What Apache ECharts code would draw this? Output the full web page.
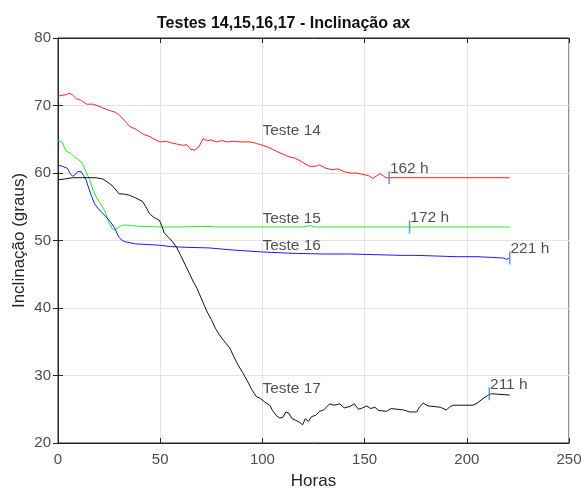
<!DOCTYPE html>
<html>
<head>
<meta charset="utf-8">
<script src="https://cdn.jsdelivr.net/npm/echarts@6/dist/echarts.min.js"></script>
<style>
  html, body { margin: 0; padding: 0; background: #fff; }
  #chart { width: 582px; height: 488px; }
</style>
</head>
<body>
<div id="chart"></div>
<script>
// eixos
var xTicks = [0, 50, 100, 150, 200, 250];
var yTicks = [20, 30, 40, 50, 60, 70, 80];

// Teste 14 (vermelho)
var horas14 = [0, 2, 4, 5.5, 7, 9, 11, 12, 14, 17, 20, 23, 25, 28, 30, 33, 35, 38, 40, 42, 45, 47, 50, 53, 55, 58, 61, 63, 65, 67, 69, 71, 73, 75, 77.5, 80, 83, 86, 90, 94, 97, 100, 103, 107, 110, 113, 116, 119, 123, 126, 128, 131, 134, 137, 140, 143, 146, 149, 152, 154, 156, 157.5, 159, 160.5, 162, 221];
var incl14 = [71.4, 71.5, 71.6, 71.8, 71.6, 71.0, 70.8, 70.6, 70.2, 70.2, 69.9, 69.5, 69.3, 69.0, 68.6, 67.6, 66.9, 66.5, 66.1, 65.7, 65.4, 65.0, 64.6, 64.7, 64.5, 64.3, 64.1, 64.2, 63.5, 63.4, 63.9, 65.1, 64.8, 64.9, 64.6, 64.8, 64.6, 64.7, 64.6, 64.6, 64.4, 64.1, 63.8, 63.2, 62.8, 62.4, 62.2, 61.7, 61.0, 61.0, 61.2, 60.7, 60.5, 60.6, 60.2, 60.0, 60.0, 59.8, 59.6, 59.2, 59.6, 59.9, 59.6, 59.3, 59.3, 59.3];

// Teste 15 (verde)
var horas15 = [0, 2, 4, 6, 8, 10, 12, 14, 15.5, 17, 18.6, 20, 22.7, 24, 25, 26.5, 27.6, 29, 31, 33, 36, 40, 50, 60, 70, 80, 100, 120, 123, 126, 140, 160, 172, 221];
var incl15 = [64.8, 64.6, 63.2, 63.0, 62.4, 62.0, 61.4, 60.0, 59.0, 57.6, 56.5, 55.8, 54.5, 53.5, 52.6, 51.8, 51.6, 51.8, 52.2, 52.3, 52.2, 52.1, 52.0, 52.0, 52.1, 52.0, 52.0, 52.0, 52.2, 52.0, 52.0, 52.0, 52.0, 52.0];

// Teste 16 (azul)
var horas16 = [0, 2, 4.6, 6, 7.2, 8.5, 9.6, 11.3, 12.5, 13.7, 15.3, 16.5, 17.8, 19.5, 21, 23.5, 25.5, 27.6, 29, 30, 31.5, 33, 38, 44, 49.6, 55, 62, 74, 85, 100, 115, 130, 142.9, 155, 168, 175, 185, 195, 205, 212, 218, 219.5, 221];
var incl16 = [61.2, 61.0, 60.7, 59.9, 59.5, 59.8, 60.2, 60.2, 59.6, 59.0, 57.5, 56.5, 55.5, 54.8, 54.3, 53.5, 52.8, 51.9, 51.0, 50.4, 50.0, 49.8, 49.5, 49.4, 49.3, 49.1, 49.0, 48.9, 48.6, 48.3, 48.1, 48.0, 48.0, 47.9, 47.8, 47.8, 47.7, 47.6, 47.6, 47.5, 47.4, 47.2, 47.4];

// Teste 17 (preto)
var horas17 = [0, 3, 7, 12, 18.6, 22, 25, 27.5, 30, 32, 35, 38, 41.3, 43, 44.7, 47, 49.6, 51, 52, 54, 55.8, 57.8, 60, 62.7, 64.5, 66, 68, 70, 72.5, 75, 77, 79, 81, 84, 86, 88, 90.4, 93, 95, 97, 99, 101, 103.6, 105, 107, 108.5, 110, 111.5, 113, 114.5, 116, 118, 119.7, 121, 122.5, 124, 126, 128, 130, 132.9, 135, 137.9, 140, 142.8, 145, 147, 149, 151, 153, 155, 157, 160.7, 163, 166, 169, 172, 175.5, 177, 178.7, 181, 184, 187, 190, 191.5, 193.3, 196, 200, 203, 205, 208, 210, 212, 221];
var incl17 = [59.0, 59.1, 59.3, 59.3, 59.3, 59.1, 58.5, 57.8, 56.9, 56.9, 56.7, 56.3, 55.8, 55.0, 54.0, 53.4, 53.0, 52.0, 51.1, 50.5, 49.9, 49.1, 47.8, 46.1, 45.0, 44.0, 42.9, 41.5, 39.7, 38.3, 37.0, 36.0, 35.2, 34.1, 32.8, 31.6, 30.4, 29.0, 27.8, 26.9, 26.6, 26.1, 25.6, 24.8, 24.0, 23.7, 23.8, 24.6, 24.4, 23.6, 23.4, 23.1, 22.7, 23.6, 23.2, 23.9, 24.1, 24.7, 24.9, 25.8, 25.6, 25.8, 25.2, 25.4, 25.8, 25.0, 25.2, 25.5, 25.1, 25.3, 24.8, 24.7, 25.1, 25.0, 24.9, 24.6, 24.6, 25.4, 25.9, 25.5, 25.4, 25.3, 24.9, 25.3, 25.6, 25.6, 25.6, 25.6, 25.9, 26.6, 27.0, 27.3, 27.1];

// marcas de fim de teste
var marcaHoras = [162, 172, 221, 211];
var marcaIncl = [59.3, 52.0, 47.4, 27.3];
var marcaTexto = ['162 h', '172 h', '221 h', '211 h'];

// nomes das curvas
var nomeHoras = [100, 100, 100, 100];
var nomeIncl = [66.2, 53.3, 49.2, 28.0];
var nomeTexto = ['Teste 14', 'Teste 15', 'Teste 16', 'Teste 17'];

function pares(xs, ys) {
    var out = [];
    for (var i = 0; i < xs.length; i++) {
        out.push([xs[i], ys[i]]);
    }
    return out;
}

function linha(xs, ys, cor) {
    return {
        type: 'line', data: pares(xs, ys), showSymbol: false, symbol: 'none',
        lineStyle: { color: cor, width: 1 }, animation: false, z: 3
    };
}

var marcas = [];
var nomes = [];
for (var i = 0; i < marcaHoras.length; i++) {
    marcas.push({ value: [marcaHoras[i], marcaIncl[i]], label: { formatter: marcaTexto[i] } });
}
for (var j = 0; j < nomeHoras.length; j++) {
    nomes.push({ value: [nomeHoras[j], nomeIncl[j]], label: { formatter: nomeTexto[j] } });
}

var eixoTxt = { color: '#4d4d4d', fontSize: 15, fontFamily: 'Liberation Sans' };

var option = {
    animation: false,
    backgroundColor: '#fff',
    title: {
        text: 'Testes 14,15,16,17 - Inclinação ax',
        left: 152, top: 11,
        textStyle: { fontSize: 16, fontWeight: 'bold', color: '#111', fontFamily: 'Liberation Sans' }
    },
    grid: {
        left: 58, right: 13, top: 38, bottom: 45,
        outerBoundsMode: 'none', containLabel: false,
        show: true, borderColor: '#262626', borderWidth: 1, backgroundColor: 'transparent'
    },
    xAxis: [{
        type: 'value', min: 0, max: 250, interval: 50,
        name: 'Horas', nameLocation: 'middle', nameGap: 30,
        nameTextStyle: { fontSize: 17, color: '#262626', fontFamily: 'Liberation Sans' },
        axisLine: { lineStyle: { color: '#262626' } },
        axisTick: { inside: true, length: 5, lineStyle: { color: '#262626' } },
        axisLabel: Object.assign({ margin: 9 }, eixoTxt),
        splitLine: { show: true, lineStyle: { color: '#e3e3e3' } }
    }, {
        type: 'value', position: 'top', min: 0, max: 250, interval: 50,
        axisLine: { show: true, lineStyle: { color: '#262626' } },
        axisTick: { inside: true, length: 5, lineStyle: { color: '#262626' } },
        axisLabel: { show: false }, splitLine: { show: false }
    }],
    yAxis: [{
        type: 'value', min: 20, max: 80, interval: 10,
        name: 'Inclinação (graus)', nameLocation: 'middle', nameGap: 30, nameMoveOverlap: false,
        nameTextStyle: { fontSize: 17, color: '#262626', fontFamily: 'Liberation Sans' },
        axisLine: { show: true, lineStyle: { color: '#262626' } },
        axisTick: { show: true, inside: true, length: 5, lineStyle: { color: '#262626' } },
        axisLabel: Object.assign({ margin: 7 }, eixoTxt),
        splitLine: { show: true, lineStyle: { color: '#e3e3e3' } }
    }, {
        type: 'value', position: 'right', min: 20, max: 80, interval: 10,
        axisLine: { show: true, lineStyle: { color: '#262626' } },
        axisTick: { show: true, inside: true, length: 5, lineStyle: { color: '#262626' } },
        axisLabel: { show: false }, splitLine: { show: false }
    }],
    series: [
        linha(horas14, incl14, '#ff2020'),
        linha(horas15, incl15, '#22ee22'),
        linha(horas16, incl16, '#1a1aff'),
        linha(horas17, incl17, '#111111'),
        {
            type: 'scatter', data: marcas, symbol: 'rect', symbolSize: [1.5, 13],
            itemStyle: { color: '#2f86d6' }, z: 5,
            label: {
                show: true, position: 'right', distance: 0, offset: [0, -9],
                color: '#262626', fontSize: 15.5, fontFamily: 'Liberation Sans'
            }
        },
        {
            type: 'scatter', data: nomes, symbolSize: 0, z: 5,
            label: {
                show: true, position: 'right', distance: 0,
                color: '#262626', fontSize: 15.5, fontFamily: 'Liberation Sans'
            }
        }
    ]
};

var myChart = echarts.init(document.getElementById('chart'));
myChart.setOption(option);
</script>
</body>
</html>
